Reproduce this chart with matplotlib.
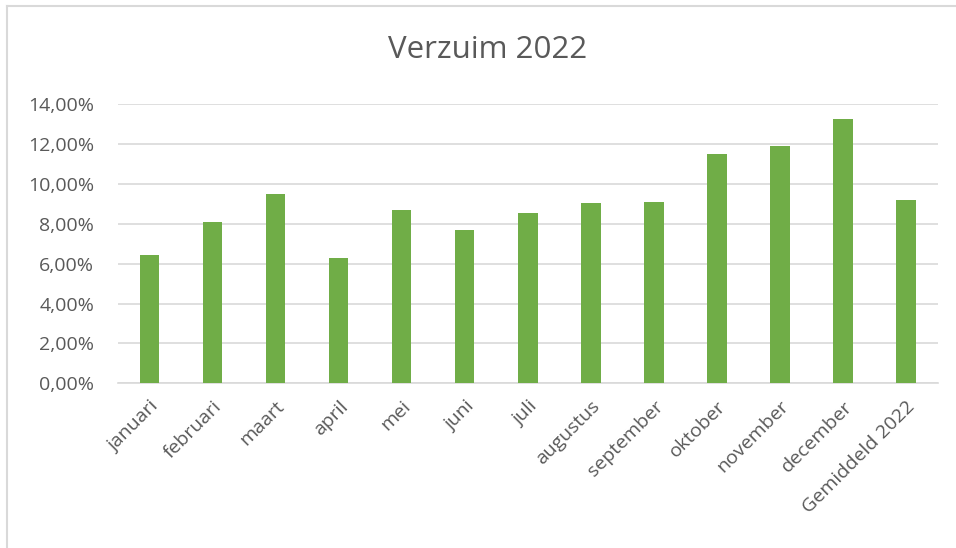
import matplotlib
matplotlib.use("Agg")
import matplotlib.pyplot as plt
from matplotlib.lines import Line2D
from matplotlib.ticker import FuncFormatter, MultipleLocator

# verzuimpercentages per maand
maanden = ["januari", "februari", "maart", "april", "mei", "juni", "juli",
           "augustus", "september", "oktober", "november", "december",
           "Gemiddeld 2022"]
verzuim = [0.0643, 0.0811, 0.0948, 0.0629, 0.0870, 0.0768, 0.0853,
           0.0903, 0.0908, 0.1149, 0.1189, 0.1327, 0.0917]

GROEN = "#70AD47"
GRIJS = "#D9D9D9"
TEKST = "#595959"

plt.rcParams["font.family"] = ["Open Sans", "DejaVu Sans"]

fig = plt.figure(figsize=(9.56, 5.48), dpi=100)
ax = fig.add_axes([0.1234, 0.3005, 0.8573, 0.5097])

x = range(len(maanden))
ax.bar(x, verzuim, width=0.31, color=GROEN, zorder=3)

ax.set_xlim(-0.5, len(maanden) - 0.5)
ax.set_ylim(0, 0.14)
ax.yaxis.set_major_locator(MultipleLocator(0.02))
ax.yaxis.set_major_formatter(FuncFormatter(lambda v, _: f"{v*100:.2f}%".replace(".", ",")))
ax.grid(axis="y", color=GRIJS, linewidth=1.2, zorder=0)

for kant in ["top", "right", "left"]:
    ax.spines[kant].set_visible(False)
ax.spines["bottom"].set_color(GRIJS)
ax.spines["bottom"].set_linewidth(1.2)

ax.set_xticks(list(x))
ax.set_xticklabels(maanden, rotation=45, ha="right", rotation_mode="anchor")
ax.tick_params(axis="x", length=0, pad=10, labelsize=14, labelcolor=TEKST)
ax.tick_params(axis="y", length=0, pad=17, labelsize=14, labelcolor=TEKST)

fig.text(0.51, 0.909, "Verzuim 2022", ha="center", va="center",
         fontsize=22.5, color=TEKST)

# rand van het grafiekgebied
fig.add_artist(Line2D([6.5 / 956, 6.5 / 956], [0, 1 - 5.5 / 548],
                      color=GRIJS, linewidth=1.5, transform=fig.transFigure))
fig.add_artist(Line2D([6.5 / 956, 1], [1 - 5.5 / 548, 1 - 5.5 / 548],
                      color=GRIJS, linewidth=1.5, transform=fig.transFigure))

fig.savefig("out.png", dpi=100)
